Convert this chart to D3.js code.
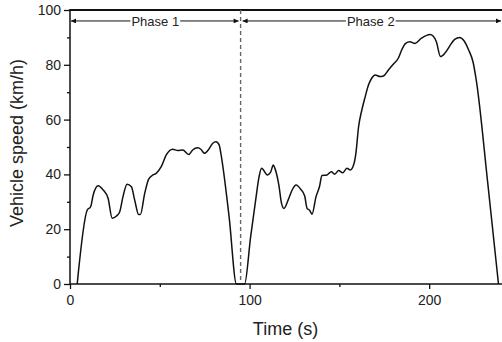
<!DOCTYPE html>
<html>
<head>
<meta charset="utf-8">
<script src="https://cdn.jsdelivr.net/npm/d3@7/dist/d3.min.js"></script>
<style>
	body { margin: 0; background: #fff; }
	text { font-family: "Liberation Sans", Arial, sans-serif; fill: #222; }
</style>
</head>
<body>
<svg id="chart" width="502" height="342"></svg>
<script>
// time axis (s) and vehicle speed (km/h)
const timeS = [4, 9.6, 11.5, 12.9, 15.7, 18.5, 21.2, 23.5, 25.9, 27.7,
	29.5, 31.8, 34.2, 36, 38.2, 39.2, 41.6, 43.8, 46.2, 48,
	50.8, 53.6, 57.2, 60, 62.8, 66.1, 68.3, 71.1, 73, 74.8,
	77.2, 79.4, 81.3, 83.1, 84, 88.6, 92.7,
	97.2, 100.6, 103.4, 105.3, 106.7, 109.9, 111.7, 113.2, 114.1, 116.3,
	117.8, 119.1, 121.5, 123.7, 125.9, 128.4, 130.7, 132, 133.3, 134.8,
	137, 138.9, 140.3, 143.1, 145.5, 147.4, 149.6, 151.8, 154.2, 156.1,
	157.9, 159.2, 160.7, 162.5, 164.4, 166.2, 168, 169.9, 172.7, 174.5,
	177.3, 180, 182.8, 184.7, 186.9, 189.3, 192.1, 195.7, 200.4, 202.2,
	204, 206.3, 208.7, 211.5, 214.2, 217, 219.4, 222, 224.4, 226.2,
	232.6, 238.6];
const speedKmh = [0, 27, 28.2, 32.5, 35.9, 34.3, 31.3, 24, 24.8, 26.4,
	31.9, 36.4, 35.5, 30.7, 25.4, 25.4, 33.1, 38.3, 39.8, 40.4,
	42.8, 47.1, 49.2, 48.7, 48.9, 47.3, 48.9, 49.7, 49.1, 47.7,
	49.1, 51.3, 51.9, 50.7, 47.7, 24.5, 0,
	0, 17.3, 30.7, 39.2, 42.2, 39.8, 40.8, 43.4, 42.2, 36.1,
	29.4, 27.6, 30.7, 34.3, 36.1, 34.6, 32.1, 27.6, 27, 25.5,
	31.9, 35.5, 39.6, 39.8, 41, 40.1, 41.4, 40.6, 42.2, 41.6,
	43.4, 47.7, 57.4, 63.5, 68.4, 72.6, 75.1, 76.3, 75.7, 75.9,
	78.1, 80.2, 82.4, 85.4, 87.8, 88.4, 87.8, 89.7, 91.1, 90.5,
	88.4, 83, 84.2, 86.9, 89.3, 90, 88.8, 85.4, 81.1, 74.5,
	37, 0];

const xTicks = [0, 100, 200];
const xMinorTicks = [50, 150];
const yTicks = [0, 20, 40, 60, 80, 100];
const yMinorTicks = [10, 30, 50, 70, 90];

const phaseLabels = ["Phase 1", "Phase 2"];
const phaseStart = [0, 95];
const phaseEnd = [95, 240];
const phaseBoundary = 95;
const phaseLevel = 96;

const margin = {top: 10, right: 0, bottom: 58, left: 70};
const width = 502, height = 342;

let svg = d3.select("#chart");

let x = d3.scaleLinear().domain([0, 240]).range([margin.left, width - 1]);
let y = d3.scaleLinear().domain([0, 100]).range([height - margin.bottom, margin.top]);

// arrowheads
let defs = svg.append("defs");
defs.append("marker")
	.attr("id", "arrow")
	.attr("viewBox", "0 0 10 10")
	.attr("refX", 10)
	.attr("refY", 5)
	.attr("markerWidth", 9)
	.attr("markerHeight", 5)
	.attr("markerUnits", "userSpaceOnUse")
	.attr("orient", "auto-start-reverse")
	.append("path")
	.attr("d", "M0,0 L10,5 L0,10 Z")
	.attr("fill", "#111");

// minor ticks
let yMinor = d3.axisLeft(y).tickValues(yMinorTicks).tickSize(3).tickFormat("");
svg.append("g")
	.attr("transform", "translate(" + margin.left + ",0)")
	.call(yMinor)
	.call(g => g.select(".domain").remove())
	.selectAll("line").attr("stroke", "#111").attr("stroke-width", 1.3);

let xMinor = d3.axisBottom(x).tickValues(xMinorTicks).tickSize(3).tickFormat("");
svg.append("g")
	.attr("transform", "translate(0," + y(0) + ")")
	.call(xMinor)
	.call(g => g.select(".domain").remove())
	.selectAll("line").attr("stroke", "#111").attr("stroke-width", 1.3);

// major axes
let yAxis = d3.axisLeft(y).tickValues(yTicks).tickSize(6).tickPadding(3);
let yG = svg.append("g")
	.attr("transform", "translate(" + margin.left + ",0)")
	.call(yAxis);
yG.select(".domain").remove();
yG.selectAll("line").attr("stroke", "#111").attr("stroke-width", 1.3);
yG.selectAll("text").style("font-size", "14px").attr("fill", "#222");

let xAxis = d3.axisBottom(x).tickValues(xTicks).tickSize(5).tickPadding(6);
let xG = svg.append("g")
	.attr("transform", "translate(0," + y(0) + ")")
	.call(xAxis);
xG.select(".domain").remove();
xG.selectAll("line").attr("stroke", "#111").attr("stroke-width", 1.3);
xG.selectAll("text").style("font-size", "14px").attr("fill", "#222");

// frame lines: left, bottom, top
svg.append("line")
	.attr("x1", margin.left).attr("x2", margin.left)
	.attr("y1", y(100)).attr("y2", y(0))
	.attr("stroke", "#111").attr("stroke-width", 1.5);
svg.append("line")
	.attr("x1", margin.left).attr("x2", width)
	.attr("y1", y(0)).attr("y2", y(0))
	.attr("stroke", "#111").attr("stroke-width", 1.5);
svg.append("line")
	.attr("x1", margin.left - 0.75).attr("x2", width)
	.attr("y1", y(100)).attr("y2", y(100))
	.attr("stroke", "#111").attr("stroke-width", 2);

// phase boundary
svg.append("line")
	.attr("x1", x(phaseBoundary)).attr("x2", x(phaseBoundary))
	.attr("y1", y(100)).attr("y2", y(0))
	.attr("stroke", "#666")
	.attr("stroke-width", 1.4)
	.attr("stroke-dasharray", "4,3");

// phase arrows with labels
for (let i = 0; i < phaseLabels.length; i++) {
	let x0 = x(phaseStart[i]) + (i === 0 ? 1 : 2);
	let x1 = x(phaseEnd[i]) - (i === 0 ? 2 : 0);
	let mid = (x(phaseStart[i]) + x(phaseEnd[i])) / 2;
	let label = svg.append("text")
		.attr("x", mid)
		.attr("y", y(phaseLevel))
		.attr("dy", "0.35em")
		.attr("text-anchor", "middle")
		.style("font-size", "13px")
		.text(phaseLabels[i]);
	let half = label.node().getComputedTextLength() / 2 + 1;

	svg.append("line")
		.attr("x1", mid - half).attr("x2", x0)
		.attr("y1", y(phaseLevel)).attr("y2", y(phaseLevel))
		.attr("stroke", "#111").attr("stroke-width", 1)
		.attr("marker-end", "url(#arrow)");
	svg.append("line")
		.attr("x1", mid + half).attr("x2", x1)
		.attr("y1", y(phaseLevel)).attr("y2", y(phaseLevel))
		.attr("stroke", "#111").attr("stroke-width", 1)
		.attr("marker-end", "url(#arrow)");
}

// speed trace
let points = timeS.map((t, i) => [t, speedKmh[i]]);
let line = d3.line()
	.x(d => x(d[0]))
	.y(d => y(d[1]))
	.curve(d3.curveMonotoneX);

svg.append("path")
	.datum(points)
	.attr("d", line)
	.attr("fill", "none")
	.attr("stroke", "#111")
	.attr("stroke-width", 1.5)
	.attr("stroke-linejoin", "round");

// axis titles
svg.append("text")
	.attr("x", (x(0) + x(240)) / 2)
	.attr("y", 335)
	.attr("text-anchor", "middle")
	.style("font-size", "18px")
	.text("Time (s)");

svg.append("text")
	.attr("transform", "translate(23," + ((y(0) + y(100)) / 2 - 4) + ") rotate(-90)")
	.attr("text-anchor", "middle")
	.style("font-size", "18px")
	.text("Vehicle speed (km/h)");
</script>
</body>
</html>
